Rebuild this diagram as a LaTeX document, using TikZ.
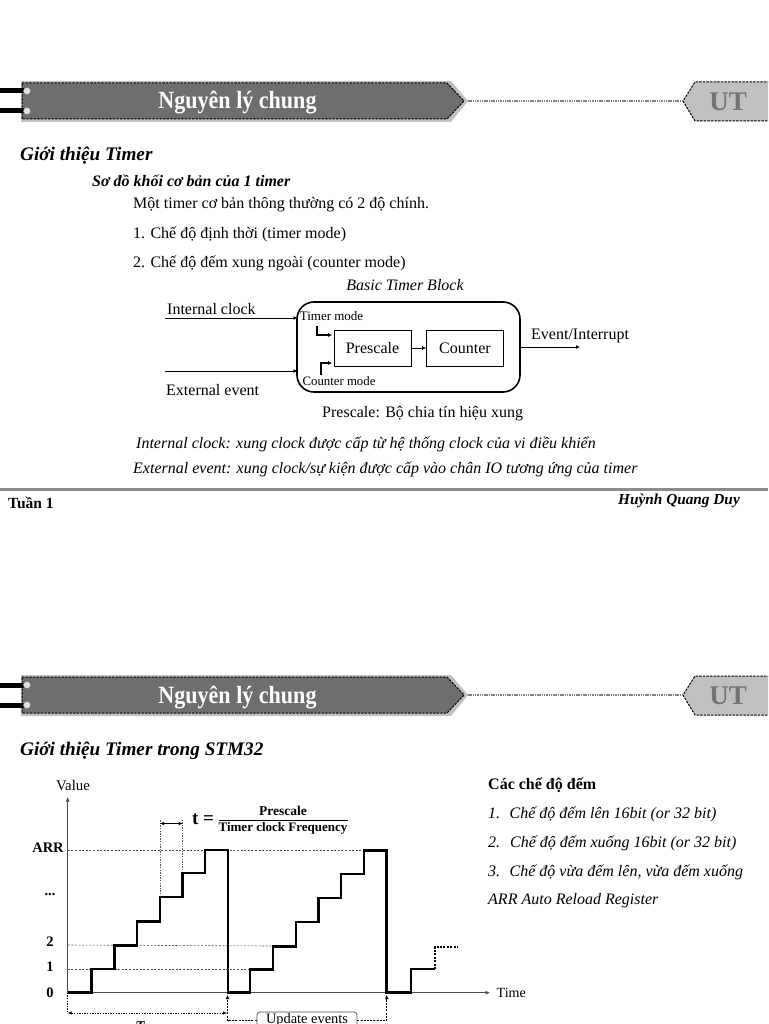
\documentclass[tikz,border=0pt]{standalone}
\usepackage{fontspec}
\setmainfont{Liberation Serif}
\usetikzlibrary{arrows.meta,shapes.misc}
\definecolor{headdark}{RGB}{110,110,110}
\definecolor{headlight}{RGB}{192,192,192}
\definecolor{headtext}{RGB}{115,115,115}
\newcommand{\fs}[1]{\fontsize{#1}{#1}\selectfont}
\newcommand{\slidehead}[2]{%
\begin{scope}[shift={(0,#1)},name prefix=#2-]
  \fill[headlight] (21,81) -- (451,81) -- (468,101) -- (451,122) -- (21,122) -- cycle;
  \filldraw[fill=headdark,draw=black,dashed,dash pattern=on 2.4pt off 1.2pt,line width=1pt] (22,83) -- (447,83) -- (464,101) -- (447,119) -- (22,119) -- cycle;
  \fill[black] (0,88.5) rectangle (25,93.5);
  \fill[black] (0,108.5) rectangle (25,113.5);
  \filldraw[fill=white!88!black,draw=gray,line width=.5pt] (27,91) circle (3.6);
  \filldraw[fill=white!88!black,draw=gray,line width=.5pt] (27,111) circle (3.6);
  \node[font=\fs{22.5}\bfseries,text=white,inner sep=0,xscale=.98,yscale=1.1] (title) at (237.5,103) {Nguyên lý chung};
  \filldraw[fill=headlight,draw=black,dash pattern=on 2.4pt off 1.2pt,line width=1pt] (770,82) -- (695,82) -- (683,101) -- (695,121) -- (770,121);
  \node[font=\fs{27}\bfseries,text=headtext,inner sep=0] (ut) at (728,102) {UT};
  \coordinate (ls) at (468,101);
  \coordinate (le) at (683,101);
  \draw[gray,line width=2.6pt,dash pattern=on 1.5pt off .8pt] (ls) -- (le);
\end{scope}}
\tikzset{
  txt/.style={anchor=base west,inner sep=0,font=\fs{16}},
  itx/.style={txt,font=\fs{16}\itshape},
  cent/.style={anchor=center,inner sep=0,font=\fs{16}},
  blockbox/.style={draw=black,line width=.8pt,minimum width=77pt,minimum height=36pt,inner sep=0,font=\fs{16},text height=10.5pt,text depth=.5pt},
  sig/.style={line width=.8pt,-{Latex[length=4pt,width=4pt]}},
  stair/.style={line width=2.5pt,line join=miter},
  guide/.style={line width=.6pt,dash pattern=on 2pt off 1.6pt,draw=black!70},
  dimline/.style={line width=.6pt,dash pattern=on 1.4pt off 1.2pt,draw=black!65},
}
\begin{document}
\begin{tikzpicture}[x=1pt,y=-1pt]
\useasboundingbox (0,0) rectangle (768,1024);
\clip (0,0) rectangle (768,1024);
\fill[white] (0,0) rectangle (768,1024);
\slidehead{0}{a}
\slidehead{594}{b}

% slide 1
\node[txt,font=\fs{19.2}\bfseries\itshape] (t1) at (20,161) {Giới thiệu Timer};
\node[txt,font=\fs{16}\bfseries\itshape] (t2) at (92,187) {Sơ đồ khối cơ bản của 1 timer};
\node[txt] (t3) at (133,209) {Một timer cơ bản thông thường có 2 độ chính.};
\node[txt] (t4) at (133,238) {1. Chế độ định thời (timer mode)};
\node[txt] (t5) at (133,267) {2. Chế độ đếm xung ngoài (counter mode)};
\node[cent,font=\fs{16}\itshape] (t6) at (405,285) {Basic Timer Block};

\node[draw=black,line width=1.6pt,rounded corners=17pt,minimum width=223pt,minimum height=90pt,inner sep=0] (timer) at (408.5,347) {};
\node[blockbox] (pre) at (372.5,348) {Prescale};
\node[blockbox] (cnt) at (465,348) {Counter};
\draw[sig] (pre) -- (cnt);
\node[txt] (ilabel) at (167,314) {Internal clock};
\node[txt] (elabel) at (166,395) {External event};
\coordinate (ia) at (165,318);
\coordinate (ea) at (165,371);
\coordinate (ib) at (297.5,318);
\coordinate (eb) at (297.5,371);
\draw[sig] (ia) -- (ib);
\draw[sig] (ea) -- (eb);
\coordinate (evout) at (580,347);
\draw[sig] (timer.east |- evout) -- (evout);
\node[txt] (evlabel) at (531,339) {Event/Interrupt};
\node[cent,font=\fs{13}] (tm) at (331.5,316) {Timer mode};
\node[cent,font=\fs{12.8}] (cm) at (339,381) {Counter mode};
\coordinate (th) at (317,326);
\coordinate (ch) at (321,375);
\draw[sig,line width=1.2pt,shorten >=1.5pt] (th) |- (pre.west |- 0,335);
\draw[sig,line width=1.2pt,shorten >=1.5pt] (ch) |- (pre.west |- 0,363);
\node[txt] (psc) at (322,417) {Prescale: Bộ chia tín hiệu xung};
\node[itx] (n1) at (136,448) {Internal clock: xung clock được cấp từ hệ thống clock của vi điều khiển};
\node[itx] (n2) at (133,473) {External event: xung clock/sự kiện được cấp vào chân IO tương ứng của timer};
\fill[black!45] (0,487.5) rectangle (768,491);
\node[txt,font=\fs{15.5}\bfseries] (f1) at (8,508) {Tuần 1};
\node[anchor=base east,inner sep=0,font=\fs{15.3}\bfseries\itshape] (f2) at (740,504) {Huỳnh Quang Duy};

% slide 2
\node[txt,font=\fs{19.2}\bfseries\itshape] (h2) at (20,755) {Giới thiệu Timer trong STM32};
\node[txt,font=\fs{16}\bfseries] (r0) at (488,789) {Các chế độ đếm};
\node[itx] (r1) at (488,818) {1.\hspace{9.5pt}Chế độ đếm lên 16bit (or 32 bit)};
\node[itx] (r2) at (488,847) {2.\hspace{10pt}Chế độ đếm xuống 16bit (or 32 bit)};
\node[itx] (r3) at (488,876) {3.\hspace{9.5pt}Chế độ vừa đếm lên, vừa đếm xuống};
\node[itx] (r4) at (488,904) {ARR Auto Reload Register};

% axes
\coordinate (o) at (67.7,992.7);
\coordinate (vtop) at (67.7,797);
\coordinate (htip) at (490,992.7);
\draw[line width=.7pt,black!70,-{Latex[length=4.5pt,width=4pt]}] (o) -- (vtop);
\draw[line width=.7pt,black!70,-{Latex[length=4.5pt,width=4pt]}] (o) -- (htip);
\node[cent,font=\fs{14.8}] (v) at (73,785) {Value};
\node[txt,font=\fs{14}] (time) at (496.5,997) {Time};
\node[cent,font=\fs{14.5}\bfseries] (larr) at (48,848) {ARR};
\node[cent,font=\fs{14.5}\bfseries] (ldots) at (50,895) {...};
\node[cent,font=\fs{14.5}\bfseries] (l2) at (50,942) {2};
\node[cent,font=\fs{14.5}\bfseries] (l1) at (50,967) {1};
\node[cent,font=\fs{14.5}\bfseries] (l0) at (50,993) {0};

% guides
\draw[guide] (67.7,850) -- (364,850);
\draw[guide] (67.7,945) -- (273,946);
\draw[guide] (67.7,969) -- (250,969);
\draw[dimline] (160,897) -- (160,820);
\draw[dimline] (182.7,873) -- (182.7,820);

% stairs
\draw[stair] (67.7,992.5) -- (91.7,992.5) -- (91.7,969) -- (114.7,969) -- (114.7,945.7) -- (137,945.7) -- (137,921.7) -- (160,921.7) -- (160,897) -- (182.7,897) -- (182.7,873) -- (205,873) -- (205,850) -- (228,850) -- (228,992.5)
  -- (250,992.5) -- (250,969.5) -- (273,969.5) -- (273,946.5) -- (296,946.5) -- (296,922) -- (318.7,922) -- (318.7,898) -- (341,898) -- (341,874) -- (364,874) -- (364,850.5) -- (386.7,850.5) -- (386.7,992.5) -- (411,992.5) -- (411,969) -- (435,969);
\draw[line width=2.2pt,dash pattern=on 2pt off 1.4pt] (435,969) -- (435,946.7) -- (458,946.7);

% formula
\node[cent,font=\fs{19}\bfseries] (teq) at (203,819) {t =};
\node[cent,font=\fs{13.5}\bfseries] (fn) at (283,811) {Prescale};
\node[cent,font=\fs{13}\bfseries] (fd) at (283,828) {Timer clock Frequency};
\coordinate (fa) at (219,820);
\coordinate (fb) at (348,820);
\draw[line width=.7pt] (fa) -- (fb);
\coordinate (ta) at (160,823.5);
\coordinate (tb) at (182.7,823.5);
\draw[line width=.7pt,{Latex[length=4pt,width=3.5pt]}-{Latex[length=4pt,width=3.5pt]}] (ta) -- (tb);

% T and update events
\coordinate (ca) at (67.7,1013);
\coordinate (cb) at (227,1013);
\draw[dimline,draw=black] (o) -- (ca);
\draw[line width=.6pt,dash pattern=on 1.4pt off 1.2pt,{Latex[length=4pt,width=3.5pt]}-{Latex[length=4pt,width=3.5pt]}] (ca) -- (cb);
\node[cent,font=\fs{15}\bfseries\itshape] (bigt) at (140,1027) {T};
\node[draw=black!70,line width=.7pt,rounded corners=3pt,minimum width=100pt,minimum height=17pt,inner sep=0,font=\fs{14.4}] (upd) at (307,1020.5) {Update events};
\coordinate (ua) at (227.5,995);
\coordinate (ub) at (386.7,995);
\draw[line width=.8pt,dash pattern=on 2pt off 1.2pt,-{Latex[length=4pt,width=4pt]}] (upd.west) -| (ua);
\draw[line width=.8pt,dash pattern=on 2pt off 1.2pt,-{Latex[length=4pt,width=4pt]}] (upd.east) -| (ub);
\end{tikzpicture}
\end{document}
